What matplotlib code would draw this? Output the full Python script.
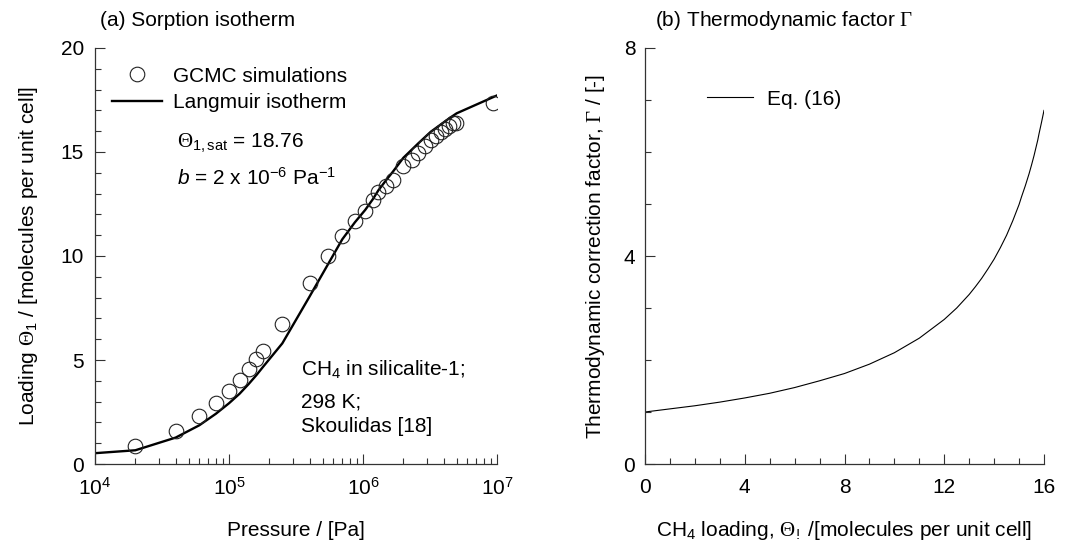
import matplotlib
matplotlib.use("Agg")
import matplotlib.pyplot as plt
from matplotlib.ticker import MultipleLocator, LogLocator, NullFormatter
from matplotlib.lines import Line2D

plt.rcParams["font.family"] = ["Liberation Sans", "DejaVu Sans"]
plt.rcParams["mathtext.fontset"] = "custom"
plt.rcParams["mathtext.rm"] = "Liberation Sans"
plt.rcParams["mathtext.it"] = "Liberation Sans:italic"
plt.rcParams["mathtext.sf"] = "Liberation Serif"
plt.rcParams["mathtext.default"] = "regular"

# GCMC simulation points: pressure (Pa) and loading (molecules per unit cell)
gcmc_pressure = [2.0e4, 4.0e4, 6.0e4, 8.0e4, 1.0e5, 1.2e5, 1.4e5, 1.6e5, 1.8e5,
                 2.5e5, 4.0e5, 5.5e5, 7.0e5, 8.7e5, 1.04e6, 1.19e6, 1.3e6,
                 1.49e6, 1.67e6, 2.0e6, 2.31e6, 2.59e6, 2.9e6, 3.2e6, 3.5e6,
                 3.8e6, 4.1e6, 4.35e6, 4.68e6, 4.96e6, 9.4e6]
gcmc_loading = [0.88, 1.60, 2.32, 2.92, 3.53, 4.04, 4.55, 5.03, 5.43,
                6.73, 8.69, 10.00, 10.94, 11.66, 12.18, 12.70, 13.10,
                13.38, 13.67, 14.31, 14.60, 14.93, 15.28, 15.57, 15.78,
                15.95, 16.09, 16.25, 16.38, 16.41, 17.35]

# Langmuir isotherm curve
langmuir_pressure = [1.0e4, 2.0e4, 4.0e4, 6.0e4, 8.0e4, 1.0e5, 1.2e5, 1.4e5,
                     1.6e5, 1.8e5, 2.5e5, 4.0e5, 5.5e5, 7.0e5, 8.7e5, 1.04e6,
                     1.19e6, 1.3e6, 1.49e6, 1.67e6, 2.0e6, 2.59e6, 3.2e6,
                     3.8e6, 4.4e6, 5.0e6, 1.0e7]
langmuir_loading = [0.52, 0.66, 1.27, 1.86, 2.42, 2.92, 3.38, 3.84,
                    4.27, 4.68, 5.80, 8.06, 9.62, 10.80, 11.62, 12.22,
                    12.75, 13.15, 13.65, 14.05, 14.72, 15.42, 15.97,
                    16.32, 16.62, 16.86, 17.72]

# Thermodynamic correction factor vs. loading
gamma_loading = [0, 1, 2, 3, 4, 5, 6, 7, 8, 9, 10, 11, 12, 12.5, 13, 13.25,
                 13.5, 13.75, 14, 14.25, 14.5, 14.75, 15, 15.1, 15.25, 15.4,
                 15.5, 15.6, 15.75, 15.8, 15.9, 16]
gamma_value = [1.00, 1.06, 1.12, 1.19, 1.27, 1.36, 1.47, 1.60, 1.74, 1.92,
               2.14, 2.42, 2.78, 3.00, 3.26, 3.41, 3.57, 3.75, 3.94, 4.16,
               4.40, 4.68, 4.99, 5.14, 5.35, 5.58, 5.75, 5.93, 6.23, 6.35,
               6.57, 6.80]

FS = 15

fig = plt.figure(figsize=(10.85, 5.52), dpi=100)
ax1 = fig.add_axes([95 / 1085, 88 / 552, 402 / 1085, 416 / 552])
ax2 = fig.add_axes([645 / 1085, 88 / 552, 399 / 1085, 416 / 552])

for ax in (ax1, ax2):
    ax.spines["top"].set_visible(False)
    ax.spines["right"].set_visible(False)
    for s in ("left", "bottom"):
        ax.spines[s].set_linewidth(0.9)
        ax.spines[s].set_color("#333333")
    ax.tick_params(which="both", direction="in", colors="#333333",
                   labelcolor="black", labelsize=FS, width=0.8)
    ax.tick_params(which="major", length=7)
    ax.tick_params(which="minor", length=4.5)

# ---- (a) sorption isotherm ----
ax1.set_xscale("log")
ax1.plot(langmuir_pressure, langmuir_loading, color="black", lw=1.7,
         solid_joinstyle="round", zorder=2)
ax1.plot(gcmc_pressure, gcmc_loading, "o", ms=10.5, mfc="none", mec="#222222",
         mew=0.8, zorder=3)
ax1.set_xlim(1e4, 1e7)
ax1.set_ylim(0, 20)
ax1.xaxis.set_major_locator(LogLocator(base=10, numticks=10))
ax1.xaxis.set_minor_locator(LogLocator(base=10, subs=range(2, 10), numticks=20))
ax1.xaxis.set_minor_formatter(NullFormatter())
ax1.yaxis.set_major_locator(MultipleLocator(5))
ax1.yaxis.set_minor_locator(MultipleLocator(1))
ax1.tick_params(axis="x", which="both", pad=9)
ax1.tick_params(axis="y", which="both", pad=8)
ax1.set_xlabel("Pressure / [Pa]", fontsize=FS, labelpad=16)
ax1.set_ylabel(r"Loading $\mathsf{\Theta}_{1}$ / [molecules per unit cell]",
               fontsize=FS, labelpad=15)
fig.text(100 / 1085, 1 - 20 / 552, "(a) Sorption isotherm", fontsize=FS,
         ha="left", va="center")

handles = [
    Line2D([], [], ls="none", marker="o", ms=10.5, mfc="none", mec="#222222",
           mew=0.8),
    Line2D([], [], color="black", lw=1.7),
]
ax1.legend(handles, ["GCMC simulations", "Langmuir isotherm"],
           loc="upper left", bbox_to_anchor=(0.022, 0.975), frameon=False,
           fontsize=FS, handlelength=2.4, handletextpad=0.5,
           labelspacing=0.35, borderaxespad=0)

ax1.text(177 / 1085, 1 - 143 / 552, r"$\mathsf{\Theta}_{1,sat}$ = 18.76",
         transform=fig.transFigure, fontsize=FS, ha="left", va="center")
ax1.text(177 / 1085, 1 - 178 / 552, r"$\mathit{b}$ = 2 x 10$^{-6}$ Pa$^{-1}$",
         transform=fig.transFigure, fontsize=FS, ha="left", va="center")
ax1.text(301 / 1085, 1 - 370 / 552, r"CH$_4$ in silicalite-1;",
         transform=fig.transFigure, fontsize=FS, ha="left", va="center")
ax1.text(301 / 1085, 1 - 402 / 552, "298 K;",
         transform=fig.transFigure, fontsize=FS, ha="left", va="center")
ax1.text(301 / 1085, 1 - 427 / 552, "Skoulidas [18]",
         transform=fig.transFigure, fontsize=FS, ha="left", va="center")

# ---- (b) thermodynamic factor ----
ax2.plot(gamma_loading, gamma_value, color="black", lw=0.8)
ax2.set_xlim(0, 16)
ax2.set_ylim(0, 8)
ax2.xaxis.set_major_locator(MultipleLocator(4))
ax2.xaxis.set_minor_locator(MultipleLocator(1))
ax2.yaxis.set_major_locator(MultipleLocator(4))
ax2.yaxis.set_minor_locator(MultipleLocator(1))
ax2.tick_params(axis="x", which="both", pad=10)
ax2.tick_params(axis="y", which="both", pad=7)
ax2.set_xlabel(r"CH$_4$ loading, $\mathsf{\Theta}_{!}$ /[molecules per unit cell]",
               fontsize=FS, labelpad=16)
ax2.set_ylabel(r"Thermodynamic correction factor, $\mathsf{\Gamma}$ / [-]",
               fontsize=FS, labelpad=12)
fig.text(655 / 1085, 1 - 20 / 552, r"(b) Thermodynamic factor $\mathsf{\Gamma}$",
         fontsize=FS, ha="left", va="center")
ax2.legend([Line2D([], [], color="black", lw=0.8)], ["Eq. (16)"],
           loc="upper left", bbox_to_anchor=(0.135, 0.92), frameon=False,
           fontsize=FS, handlelength=2.2, handletextpad=0.67, borderaxespad=0)

fig.savefig("out.png", dpi=100)
